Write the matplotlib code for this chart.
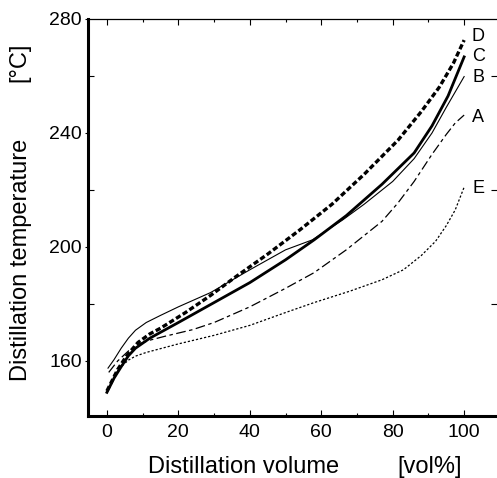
import matplotlib
matplotlib.use("Agg")
import matplotlib.pyplot as plt
from matplotlib.ticker import MultipleLocator

plt.rcParams['font.family'] = ['Liberation Sans', 'DejaVu Sans']
plt.rcParams['lines.scale_dashes'] = False

# --- data ---
x_A = [0.5, 3, 6, 9, 12, 16, 24, 30, 40, 50, 58, 67, 72, 77, 81.5, 86, 91, 95, 97.5, 100]
y_A = [156, 160, 163.5, 166, 167.3, 168.6, 171, 173.5, 179, 185.5, 191, 199, 204, 209, 215.5, 223, 232.5, 239.5, 243.5, 246.3]

x_B = [0.3, 2, 4, 6, 8, 11, 15, 20, 29, 40, 50, 57.5, 66, 72, 80, 86, 91, 95, 100]
y_B = [157.5, 160.5, 164.5, 168, 170.8, 173.5, 176, 179, 184, 192, 199, 202.5, 209.5, 215, 223, 231, 240, 249, 259.8]

x_C = [0, 2, 4, 6, 8, 12, 20, 30, 40, 50, 58, 67, 77, 86, 91, 95.5, 100]
y_C = [149, 154, 158, 161.8, 164.5, 168, 173.5, 180.5, 187.5, 195.5, 202.5, 211, 222, 233, 242.5, 253, 266.7]

x_D = [0, 3, 5.6, 8.7, 12, 15, 22, 29, 36, 45, 54, 63, 72, 81.5, 88, 93, 97, 100]
y_D = [149.5, 157, 162, 166.5, 169.5, 171.5, 177, 183, 189.5, 197.5, 206, 215, 225.5, 237.5, 247.5, 256, 264.5, 272.6]

x_E = [2, 4, 6, 8, 11, 20, 30, 40, 50, 58, 68, 77, 83, 88, 92, 95, 97.5, 100]
y_E = [155, 158, 160.3, 161.7, 163, 166, 169, 172.5, 177, 180.5, 184.5, 188.5, 192, 197, 202, 207.5, 213, 221]

curve_labels = ['D', 'C', 'B', 'A', 'E']
label_y = [273.7, 266.7, 259.5, 245.5, 220.5]

x_ticks = [0, 20, 40, 60, 80, 100]
y_ticks = [160, 200, 240, 280]

fig = plt.figure(figsize=(4.97, 4.78), dpi=100)
ax = fig.add_axes([88/497, 1 - 416/478, 1 - 88/497, (416 - 19)/478])

ax.plot(x_D, y_D, color='black', lw=2.4, dashes=(3.8, 1.9))
ax.plot(x_C, y_C, color='black', lw=2.0)
ax.plot(x_B, y_B, color='black', lw=0.8)
ax.plot(x_A, y_A, color='black', lw=0.9, dashes=(7, 2.5, 2.5, 2.5))
ax.plot(x_E, y_E, color='black', lw=0.9, dashes=(1.6, 1.4))

for lab, yy in zip(curve_labels, label_y):
    ax.text(104, yy, lab, fontsize=13, ha='center', va='center')

ax.set_xlim(-5.3, 109.2)
ax.set_ylim(140.7, 280)

ax.set_xticks(x_ticks)
ax.xaxis.set_minor_locator(MultipleLocator(10))
ax.set_yticks(y_ticks)
ax.yaxis.set_minor_locator(MultipleLocator(20))

ax.spines['left'].set_linewidth(2.2)
ax.spines['bottom'].set_linewidth(2.2)
ax.spines['top'].set_linewidth(0.9)
ax.spines['right'].set_visible(False)

ax.tick_params(axis='x', which='major', direction='in', length=4, width=0.8,
               top=True, labelsize=14, pad=6)
ax.tick_params(axis='x', which='minor', direction='in', length=2.5, width=0.8, top=True)
ax.tick_params(axis='y', which='major', direction='out', length=2.5, width=0.8,
               right=True, labelsize=14, pad=2)
ax.tick_params(axis='y', which='minor', direction='in', length=4, width=0.8, right=True)
for t in ax.yaxis.get_major_ticks():
    t.tick2line.set_markersize(4)
    t.tick2line.set_marker(matplotlib.lines.TICKRIGHT)

fig.text(21/497, 1 - 260/478, 'Distillation temperature', rotation=90,
         fontsize=17, ha='center', va='center')
fig.text(19/497, 1 - 62/478, '[°C]', rotation=90,
         fontsize=17, ha='center', va='center')
fig.text(244/497, 1 - 467/478, 'Distillation volume', fontsize=17,
         ha='center', va='center')
fig.text(430/497, 1 - 467/478, '[vol%]', fontsize=17,
         ha='center', va='center')

fig.savefig('out.png', dpi=100)
